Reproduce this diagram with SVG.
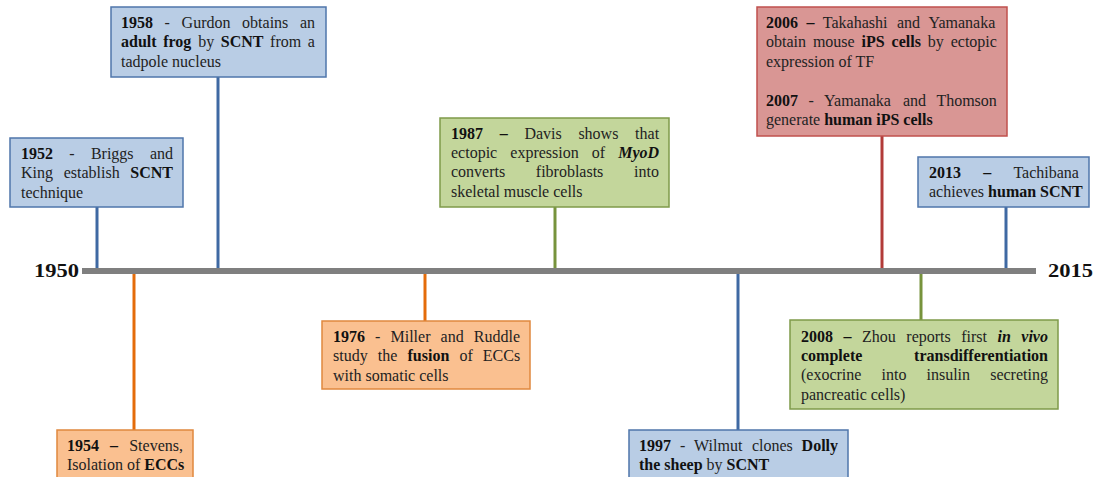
<svg xmlns="http://www.w3.org/2000/svg" width="1098" height="477" viewBox="0 0 1098 477">
<style>
text { font-family: "Liberation Serif", "Times New Roman", serif; font-size: 16px; fill: #222222; }
.e { text-anchor: end; }
.b { font-weight: bold; fill: #111111; }
.i { font-style: italic; }
.yr { font-weight: bold; font-size: 19px; fill: #111111; }
.blue { fill: #b9cde5; stroke: #4f76ab; stroke-width: 1.5; }
.orange { fill: #fac090; stroke: #e0883e; stroke-width: 1.5; }
.green { fill: #c3d69b; stroke: #7f9a4a; stroke-width: 1.5; }
.red { fill: #d99694; stroke: #c0504d; stroke-width: 1.5; }
.cb { stroke: #3f69a3; stroke-width: 3; }
.co { stroke: #e46c0a; stroke-width: 3; }
.cg { stroke: #77933c; stroke-width: 3; }
.cr { stroke: #b23b38; stroke-width: 3; }
</style>
<rect width="1098" height="477" fill="#ffffff"/>

<g id="connectors">
  <line class="cb" x1="97" y1="207" x2="97" y2="269"/>
  <line class="cb" x1="218" y1="77" x2="218" y2="269"/>
  <line class="co" x1="134" y1="272" x2="134" y2="430"/>
  <line class="co" x1="425" y1="272" x2="425" y2="321"/>
  <line class="cg" x1="555" y1="207" x2="555" y2="269"/>
  <line class="cb" x1="738" y1="272" x2="738" y2="430"/>
  <line class="cr" x1="882" y1="136" x2="882" y2="269"/>
  <line class="cg" x1="921" y1="272" x2="921" y2="320"/>
  <line class="cb" x1="1006" y1="207" x2="1006" y2="269"/>
</g>

<g id="timeline">
  <rect x="82" y="268" width="954" height="6" fill="#7f7f7f"/>
  <text class="yr" x="34" y="277" textLength="45" lengthAdjust="spacingAndGlyphs">1950</text>
  <text class="yr" x="1048" y="277" textLength="45" lengthAdjust="spacingAndGlyphs">2015</text>
</g>

<g id="n1952">
  <rect class="blue" x="10" y="138" width="173" height="69"/>
  <text y="159"><tspan class="b" x="21">1952</tspan><tspan x="69.3">-</tspan><tspan x="90.9">Briggs</tspan><tspan x="149.9">and</tspan></text>
  <text y="178"><tspan x="21">King</tspan><tspan x="63.7">establish</tspan><tspan class="b" x="130.3">SCNT</tspan></text>
  <text x="21" y="198">technique</text>
</g>

<g id="n1958">
  <rect class="blue" x="111" y="7" width="215" height="70"/>
  <text y="28"><tspan class="b" x="121">1958</tspan><tspan x="164.6">-</tspan><tspan x="181.6">Gurdon</tspan><tspan x="242.1">obtains</tspan><tspan x="299.9">an</tspan></text>
  <text y="47"><tspan class="b" x="121">adult</tspan><tspan class="b" x="163.2">frog</tspan><tspan x="198.2">by</tspan><tspan class="b" x="220.8">SCNT</tspan><tspan x="270.1">from</tspan><tspan x="307.8">a</tspan></text>
  <text x="121" y="67">tadpole nucleus</text>
</g>

<g id="n1954">
  <rect class="orange" x="57" y="430" width="136" height="60"/>
  <text y="451"><tspan class="b" x="67">1954</tspan><tspan class="b" x="110.1">–</tspan><tspan x="129.2">Stevens,</tspan></text>
  <text x="67" y="470">Isolation of <tspan class="b">ECCs</tspan></text>
</g>

<g id="n1976">
  <rect class="orange" x="322" y="321" width="208" height="68"/>
  <text y="342"><tspan class="b" x="333">1976</tspan><tspan x="375.1">-</tspan><tspan x="390.5">Miller</tspan><tspan x="440.6">and</tspan><tspan x="473.8">Ruddle</tspan></text>
  <text y="361"><tspan x="333">study</tspan><tspan x="377.8">the</tspan><tspan class="b" x="407.5">fusion</tspan><tspan x="459.4">of</tspan><tspan x="482.8">ECCs</tspan></text>
  <text x="333" y="381">with somatic cells</text>
</g>

<g id="n1987">
  <rect class="green" x="440" y="118" width="229" height="89"/>
  <text y="139"><tspan class="b" x="451">1987</tspan><tspan class="b" x="499.7">–</tspan><tspan x="524.4">Davis</tspan><tspan x="578.4">shows</tspan><tspan x="635.1">that</tspan></text>
  <text y="158"><tspan x="451">ectopic</tspan><tspan x="510.3">expression</tspan><tspan x="591.8">of</tspan><tspan class="b i" x="618.2">MyoD</tspan></text>
  <text y="177"><tspan x="451">converts</tspan><tspan x="535.8">fibroblasts</tspan><tspan x="634.1">into</tspan></text>
  <text x="451" y="197">skeletal muscle cells</text>
</g>

<g id="n1997">
  <rect class="blue" x="629" y="430" width="219" height="60"/>
  <text y="451"><tspan class="b" x="639">1997</tspan><tspan x="679.9">-</tspan><tspan x="694.1">Wilmut</tspan><tspan x="751.9">clones</tspan><tspan class="b" x="801.6">Dolly</tspan></text>
  <text x="639" y="470"><tspan class="b">the sheep</tspan> by <tspan class="b">SCNT</tspan></text>
</g>

<g id="n2006">
  <rect class="red" x="757" y="7" width="250" height="129"/>
  <text y="28"><tspan class="b" x="766">2006</tspan><tspan class="b" x="806.4">–</tspan><tspan x="822.8">Takahashi</tspan><tspan x="897">and</tspan><tspan x="928.5">Yamanaka</tspan></text>
  <text y="47"><tspan x="766">obtain</tspan><tspan x="812.9">mouse</tspan><tspan class="b" x="861.6">iPS</tspan><tspan class="b" x="891.6">cells</tspan><tspan x="927.8">by</tspan><tspan x="950.7">ectopic</tspan></text>
  <text x="766" y="67">expression of TF</text>
  <text y="106"><tspan class="b" x="766">2007</tspan><tspan x="808.4">-</tspan><tspan x="824.1">Yamanaka</tspan><tspan x="902.9">and</tspan><tspan x="936.4">Thomson</tspan></text>
  <text x="766" y="125">generate <tspan class="b">human iPS cells</tspan></text>
</g>

<g id="n2008">
  <rect class="green" x="790" y="320" width="268" height="89"/>
  <text y="342"><tspan class="b" x="801">2008</tspan><tspan class="b" x="843.5">–</tspan><tspan x="862">Zhou</tspan><tspan x="906.3">reports</tspan><tspan x="961.2">first</tspan><tspan class="b i" x="997.5">in</tspan><tspan class="b i" x="1021.3">vivo</tspan></text>
  <text class="b" x="801" y="361">complete</text>
  <text class="e b" x="1048" y="361">transdifferentiation</text>
  <text y="380"><tspan x="801">(exocrine</tspan><tspan x="881.5">into</tspan><tspan x="926.5">insulin</tspan><tspan x="990.2">secreting</tspan></text>
  <text x="801" y="400">pancreatic cells)</text>
</g>

<g id="n2013">
  <rect class="blue" x="918" y="157" width="171" height="50"/>
  <text y="178"><tspan class="b" x="929">2013</tspan><tspan class="b" x="983.2">–</tspan><tspan x="1013.4">Tachibana</tspan></text>
  <text x="929" y="197">achieves <tspan class="b">human SCNT</tspan></text>
</g>
</svg>
